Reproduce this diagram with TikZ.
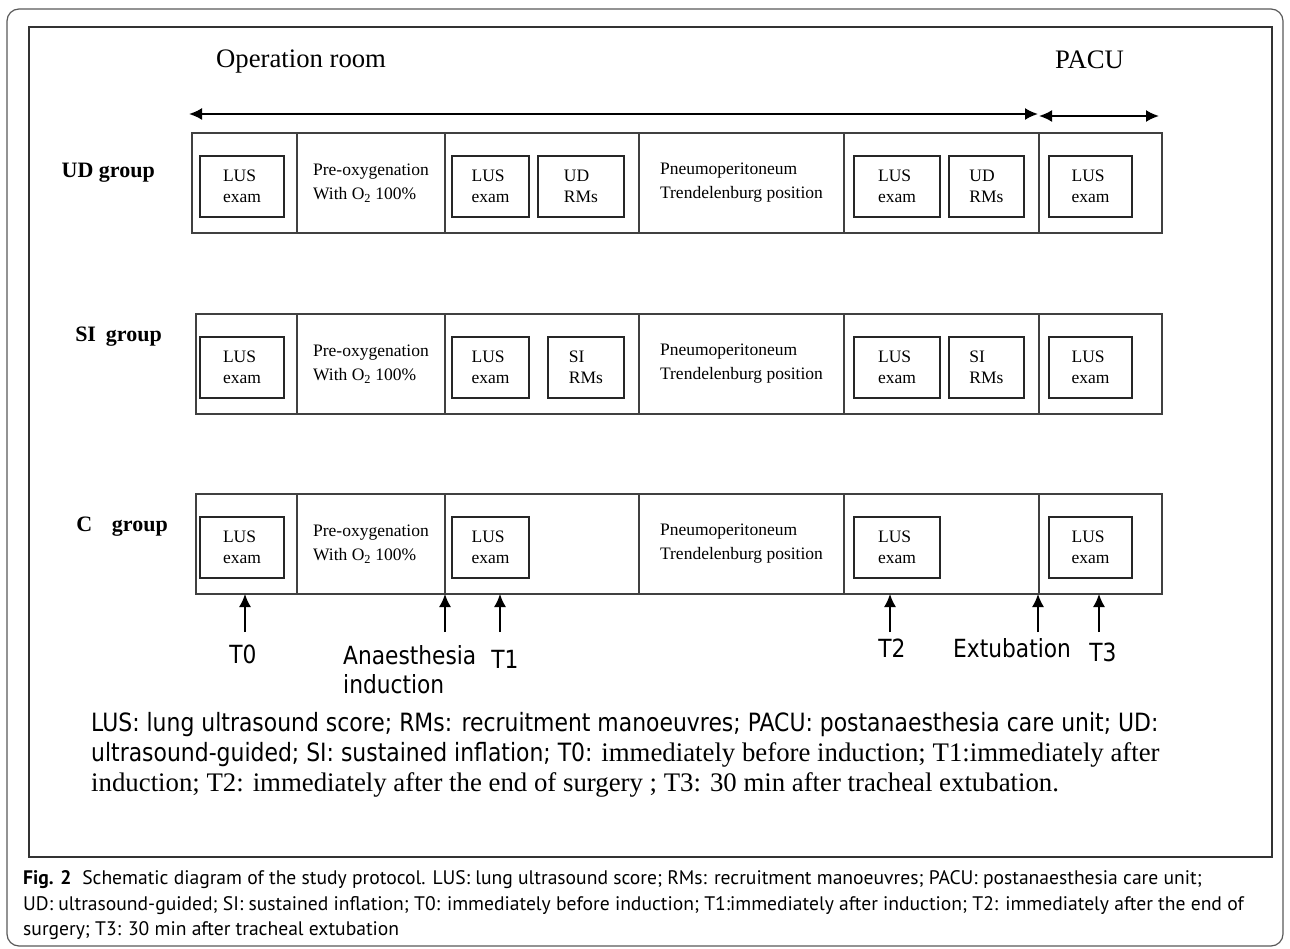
\documentclass[tikz,border=0pt]{standalone}
\usepackage{fontspec}
\setmainfont{Liberation Serif}
\newfontfamily\labelfont[FakeStretch=0.87]{DejaVu Sans}
\newfontfamily\captionfont{PT Sans}
\usetikzlibrary{positioning,arrows.meta}

\begin{document}
\begin{tikzpicture}[
    x=1pt,y=-1pt,
    >={Latex[length=13pt,width=12pt]},
    rowcell/.style={draw=black!75,line width=1.2pt,outer sep=0pt,inner sep=0pt,
      minimum height=100pt,align=left,font=\fontsize{17.5}{24}\selectfont},
    exambox/.style={draw=black!85,line width=2pt,outer sep=0pt,inner sep=0pt,
      minimum height=61pt,align=left,font=\fontsize{17.5}{21}\selectfont},
    grouplabel/.style={anchor=base east,inner sep=0pt,font=\fontsize{22}{26}\selectfont\bfseries},
    periodlabel/.style={anchor=base west,inner sep=0pt,font=\fontsize{26.7}{30}\selectfont},
    timelabel/.style={anchor=base,inner sep=0pt,font=\labelfont\fontsize{25}{29}\selectfont},
    timearrow/.style={->,line width=1.5pt},
    legendline/.style={anchor=base west,inner sep=0pt,font=\fontsize{26.8}{30}\selectfont},
    captionline/.style={anchor=base west,inner sep=0pt,font=\captionfont\fontsize{19.6}{25}\selectfont},
  ]
  \useasboundingbox (0,0) rectangle (1290,949);
  % frames
  \draw [black!65,line width=1.2pt,rounded corners=12pt]
    (7,9) rectangle (1283,946)
  ;
  \draw [black!80,line width=2pt]
    (29,27) rectangle (1272,857)
  ;
  % periods
  \node [periodlabel] (operation) at (216,68) {Operation room};
  \node [periodlabel] (pacu) at (1055,69) {PACU};
  \coordinate (or start) at (189,114);
  \coordinate (or end) at (1038,114);
  \coordinate (pacu start) at (1039,116);
  \coordinate (pacu end) at (1159,116);
  \draw [<->,line width=2pt]
    (or start)
    -- (or end)
  ;
  \draw [<->,line width=2pt]
    (pacu start)
    -- (pacu end)
  ;
  % UD group
  \node [grouplabel] (ud label) at (155,178) {UD group};
  \node [rowcell,minimum width=105pt,anchor=west] (ud1) at (192,183) {};
  \node [rowcell,minimum width=148pt,right=0pt of ud1] (ud2)
    {Pre-oxygenation\\With O\textsubscript{2} 100\%};
  \node [rowcell,minimum width=194pt,right=0pt of ud2] (ud3) {};
  \node [rowcell,minimum width=205pt,right=0pt of ud3] (ud4)
    {Pneumoperitoneum\\Trendelenburg position};
  \node [rowcell,minimum width=195pt,right=0pt of ud4] (ud5) {};
  \node [rowcell,minimum width=123pt,right=0pt of ud5] (ud6) {};
  \node [exambox,minimum width=84pt,right=8pt of ud1.west,yshift=-3.5pt] (ud lus1) {LUS\\exam};
  \node [exambox,minimum width=77pt,right=7pt of ud3.west,yshift=-3.5pt] (ud lus2) {LUS\\exam};
  \node [exambox,minimum width=86pt,right=9pt of ud lus2] (ud rms1) {UD\\RMs};
  \node [exambox,minimum width=86pt,right=10pt of ud5.west,yshift=-3.5pt] (ud lus3) {LUS\\exam};
  \node [exambox,minimum width=75pt,right=9pt of ud lus3] (ud rms2) {UD\\RMs};
  \node [exambox,minimum width=83pt,right=10pt of ud6.west,yshift=-3.5pt] (ud lus4) {LUS\\exam};
  % SI group
  \node [grouplabel] (si label) at (162,342) {SI\hspace{0.45em}group};
  \node [rowcell,minimum width=101pt,anchor=west] (si1) at (196,364) {};
  \node [rowcell,minimum width=148pt,right=0pt of si1] (si2)
    {Pre-oxygenation\\With O\textsubscript{2} 100\%};
  \node [rowcell,minimum width=194pt,right=0pt of si2] (si3) {};
  \node [rowcell,minimum width=205pt,right=0pt of si3] (si4)
    {Pneumoperitoneum\\Trendelenburg position};
  \node [rowcell,minimum width=195pt,right=0pt of si4] (si5) {};
  \node [rowcell,minimum width=123pt,right=0pt of si5] (si6) {};
  \node [exambox,minimum width=84pt,right=4pt of si1.west,yshift=-3.5pt] (si lus1) {LUS\\exam};
  \node [exambox,minimum width=77pt,right=7pt of si3.west,yshift=-3.5pt] (si lus2) {LUS\\exam};
  \node [exambox,minimum width=76pt,right=19pt of si lus2] (si rms1) {SI\\RMs};
  \node [exambox,minimum width=86pt,right=10pt of si5.west,yshift=-3.5pt] (si lus3) {LUS\\exam};
  \node [exambox,minimum width=75pt,right=9pt of si lus3] (si rms2) {SI\\RMs};
  \node [exambox,minimum width=83pt,right=10pt of si6.west,yshift=-3.5pt] (si lus4) {LUS\\exam};
  % C group
  \node [grouplabel] (c label) at (168,531) {C\hspace{0.9em}group};
  \node [rowcell,minimum width=101pt,anchor=west] (c1) at (196,544) {};
  \node [rowcell,minimum width=148pt,right=0pt of c1] (c2)
    {Pre-oxygenation\\With O\textsubscript{2} 100\%};
  \node [rowcell,minimum width=194pt,right=0pt of c2] (c3) {};
  \node [rowcell,minimum width=205pt,right=0pt of c3] (c4)
    {Pneumoperitoneum\\Trendelenburg position};
  \node [rowcell,minimum width=195pt,right=0pt of c4] (c5) {};
  \node [rowcell,minimum width=123pt,right=0pt of c5] (c6) {};
  \node [exambox,minimum width=84pt,right=4pt of c1.west,yshift=-3.5pt] (c lus1) {LUS\\exam};
  \node [exambox,minimum width=77pt,right=7pt of c3.west,yshift=-3.5pt] (c lus2) {LUS\\exam};
  \node [exambox,minimum width=86pt,right=10pt of c5.west,yshift=-3.5pt] (c lus3) {LUS\\exam};
  \node [exambox,minimum width=83pt,right=10pt of c6.west,yshift=-3.5pt] (c lus4) {LUS\\exam};
  % time points
  \coordinate (t0 tail) at (245,632);
  \coordinate (induction tail) at (445,632);
  \coordinate (t1 tail) at (500,632);
  \coordinate (t2 tail) at (890,632);
  \coordinate (extubation tail) at (1038,632);
  \coordinate (t3 tail) at (1099,632);
  \draw [timearrow] (t0 tail) -- (t0 tail |- c1.south);
  \draw [timearrow] (induction tail) -- (induction tail |- c2.south);
  \draw [timearrow] (t1 tail) -- (t1 tail |- c3.south);
  \draw [timearrow] (t2 tail) -- (t2 tail |- c5.south);
  \draw [timearrow] (extubation tail) -- (extubation tail |- c5.south);
  \draw [timearrow] (t3 tail) -- (t3 tail |- c6.south);
  \node [timelabel] (t0) at (243,663) {T0};
  \node [timelabel,anchor=base west] (induction) at (343,664) {Anaesthesia};
  \node [timelabel,anchor=base west] (induction2) at (343,693) {induction};
  \node [timelabel] (t1) at (505,668) {T1};
  \node [timelabel] (t2) at (892,657) {T2};
  \node [timelabel,anchor=base west] (extubation) at (953,657) {Extubation};
  \node [timelabel] (t3) at (1103,661) {T3};
  % legend
  \node [legendline,font=\labelfont\fontsize{25.2}{30}\selectfont] (legend1) at (91,731)
    {LUS: lung ultrasound score; RMs: recruitment manoeuvres; PACU: postanaesthesia care unit; UD:};
  \node [legendline] (legend2) at (91,761)
    {{\labelfont\fontsize{25.2}{30}\selectfont ultrasound-guided; SI: sustained inflation; T0:} immediately before induction; T1:immediately after};
  \node [legendline] (legend3) at (91,791)
    {induction; T2: immediately after the end of surgery ; T3: 30 min after tracheal extubation.};
  % caption
  \node [captionline] (caption1) at (23,884)
    {\textbf{Fig. 2}\hspace{0.55em}Schematic diagram of the study protocol. LUS: lung ultrasound score; RMs: recruitment manoeuvres; PACU: postanaesthesia care unit;};
  \node [captionline] (caption2) at (23,910)
    {UD: ultrasound-guided; SI: sustained inflation; T0: immediately before induction; T1:immediately after induction; T2: immediately after the end of};
  \node [captionline] (caption3) at (23,935)
    {surgery; T3: 30 min after tracheal extubation};
\end{tikzpicture}
\end{document}
